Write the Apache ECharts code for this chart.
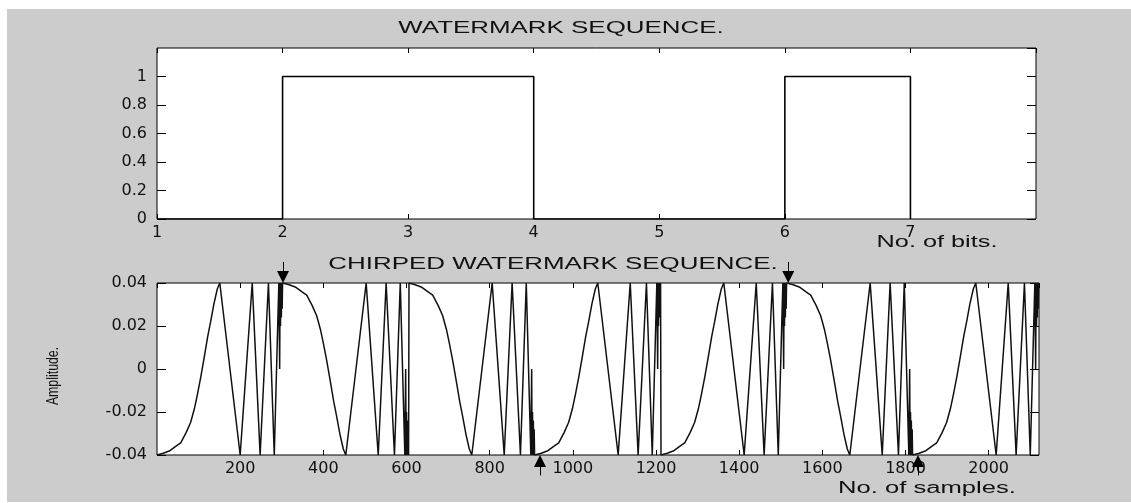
<!DOCTYPE html>
<html>
<head>
<meta charset="utf-8">
<title>Watermark sequence</title>
<script src="https://cdn.jsdelivr.net/npm/echarts@6/dist/echarts.min.js"></script>
<style>
html, body { margin: 0; padding: 0; background: #fff; }
#figure { position: absolute; left: 7px; top: 9px; width: 1124px; height: 493px; background: #cccccc; }
#main { position: absolute; left: 0; top: 0; width: 1131px; height: 503px; }
</style>
</head>
<body>
<div id="figure"></div>
<div id="main"></div>
<script>
// watermark bits, plotted as stairs over bit positions 1..7
const bitPositions = [1, 2, 3, 4, 5, 6, 7]
const watermarkBits = [0, 1, 1, 0, 0, 1, 0]

// one chirp (303 samples), shape for a "1" bit
// (a "0" bit uses the same chirp upside down)
const samplesPerBit = 303
const chirpAmplitude = 0.04
const chirpOffsets = [0, 15, 31, 45, 57, 70, 81, 90, 97, 105, 113, 122, 129, 137, 145, 151,
    200, 229, 248, 268, 282, 293, 295, 296, 297, 298, 299, 300, 301, 302]
const chirpShape = [1, 0.98, 0.95, 0.9, 0.86, 0.74, 0.62, 0.46, 0.3, 0.1, -0.12, -0.38, -0.55, -0.76, -0.93, -1,
    1, -1, 1, -1, 1, -1, 0, -1, -0.5, -1, -0.6, -1, -0.7, -1]

// arrows pointing at bit boundaries (sample index)
const arrowsDown = [303, 1518]
const arrowsUp = [921, 1830]

const labelFont = { fontFamily: 'DejaVu Sans', fontSize: 16, color: '#111' }

const stairsData = bitPositions.map((x, i) => [x, watermarkBits[i]])
const chirpData = []
watermarkBits.forEach((bit, i) => {
    const sign = bit ? 1 : -1
    chirpOffsets.forEach((off, j) => {
        chirpData.push([i * samplesPerBit + off, sign * chirpAmplitude * chirpShape[j]])
    })
})
const arrowData = arrowsDown.map(x => ({ coords: [[x, 0.0498], [x, 0.0428]] }))
    .concat(arrowsUp.map(x => ({ coords: [[x, -0.0495], [x, -0.0428]] })))

const plain = v => String(v)
// every axis: no own line (grid border draws the box), ticks pointing inwards
function axis(gridIndex, min, max, interval, tickLen, opts) {
    return Object.assign({
        type: 'value', gridIndex, min, max, interval,
        axisLine: { show: false, onZero: false },
        splitLine: { show: false },
        axisTick: { inside: true, length: tickLen, lineStyle: { color: '#000' } },
        axisLabel: { show: false }
    }, opts)
}
const label = (extra) => Object.assign({ formatter: plain }, labelFont, extra)

const myChart = echarts.init(document.getElementById('main'))
const option = {
    animation: false,
    grid: [
        { left: 157, top: 48, width: 879, height: 171, show: true, backgroundColor: '#fff', borderColor: '#000', borderWidth: 1 },
        { left: 157, top: 283, width: 882, height: 172, show: true, backgroundColor: '#fff', borderColor: '#000', borderWidth: 1 }
    ],
    xAxis: [
        axis(0, 1, 8, 1, 5, { position: 'bottom', axisLabel: label({ margin: 6, showMaxLabel: false }) }),
        axis(1, 0, 2121, 200, 5, { position: 'bottom', axisLabel: label({ margin: 6, showMinLabel: false, showMaxLabel: false }) }),
        axis(0, 1, 8, 1, 5, { position: 'top' }),
        axis(1, 0, 2121, 200, 5, { position: 'top' })
    ],
    yAxis: [
        axis(0, 0, 1.2, 0.2, 9, { position: 'left', axisLabel: label({ margin: 10, showMaxLabel: false }) }),
        axis(1, -0.04, 0.04, 0.02, 9, { position: 'left', axisLabel: label({ margin: 10 }) }),
        axis(0, 0, 1.2, 0.2, 9, { position: 'right' }),
        axis(1, -0.04, 0.04, 0.02, 9, { position: 'right' })
    ],
    series: [
        {
            name: 'watermark', type: 'line', xAxisIndex: 0, yAxisIndex: 0,
            step: 'end', showSymbol: false, data: stairsData,
            lineStyle: { color: '#000', width: 1.6 }
        },
        {
            name: 'chirped', type: 'line', xAxisIndex: 1, yAxisIndex: 1,
            showSymbol: false, data: chirpData,
            lineStyle: { color: '#111', width: 1.5 }
        },
        {
            name: 'arrows', type: 'lines', coordinateSystem: 'cartesian2d', xAxisIndex: 1, yAxisIndex: 1,
            clip: false, silent: true, symbol: ['none', 'triangle'], symbolSize: 12,
            lineStyle: { color: '#000', width: 1, opacity: 1, curveness: 0 },
            data: arrowData
        }
    ],
    graphic: [
        { type: 'text', x: 561, y: 29, scaleX: 1.62, style: { text: 'WATERMARK SEQUENCE.', fontFamily: 'Liberation Sans', fontSize: 16, fill: '#111', textAlign: 'center', textVerticalAlign: 'middle' } },
        { type: 'text', x: 553, y: 264.5, scaleX: 1.62, style: { text: 'CHIRPED WATERMARK SEQUENCE.', fontFamily: 'Liberation Sans', fontSize: 16, fill: '#111', textAlign: 'center', textVerticalAlign: 'middle' } },
        { type: 'text', x: 937, y: 243, scaleX: 1.58, style: { text: 'No. of bits.', fontFamily: 'Liberation Sans', fontSize: 16, fill: '#111', textAlign: 'center', textVerticalAlign: 'middle' } },
        { type: 'text', x: 927, y: 489, scaleX: 1.6, style: { text: 'No. of samples.', fontFamily: 'Liberation Sans', fontSize: 16, fill: '#111', textAlign: 'center', textVerticalAlign: 'middle' } },
        { type: 'text', x: 53, y: 376, rotation: Math.PI / 2, scaleX: 0.85, scaleY: 1.15, style: { text: 'Amplitude.', fontFamily: 'Liberation Sans', fontSize: 14.5, fill: '#111', textAlign: 'center', textVerticalAlign: 'middle' } }
    ]
}
myChart.setOption(option)
</script>
</body>
</html>
